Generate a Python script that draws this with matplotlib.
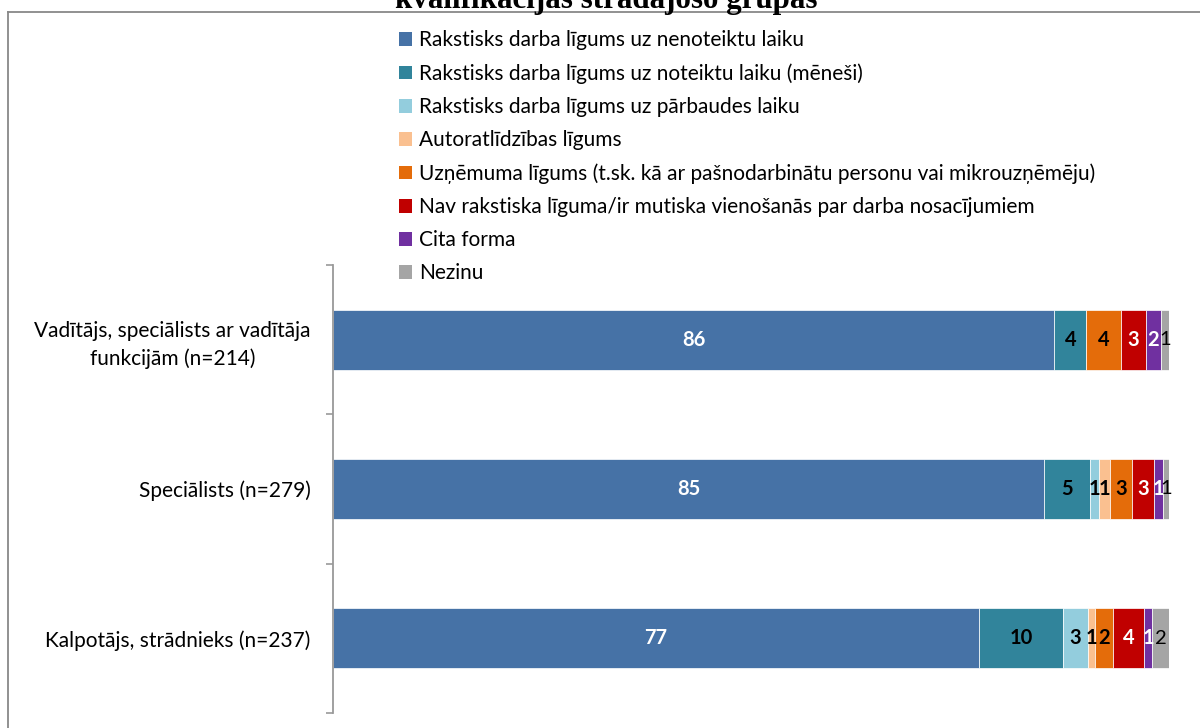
import matplotlib.pyplot as plt
from matplotlib.lines import Line2D
from matplotlib.patches import Patch
import numpy as np

# Categories (top to bottom) and series shares, %
categories = ["Vadītājs, speciālists ar vadītāja\nfunkcijām (n=214)",
              "Speciālists (n=279)",
              "Kalpotājs, strādnieks (n=237)"]

series_names = ["Rakstisks darba līgums uz nenoteiktu laiku",
                "Rakstisks darba līgums uz noteiktu laiku (mēneši)",
                "Rakstisks darba līgums uz pārbaudes laiku",
                "Autoratlīdzības līgums",
                "Uzņēmuma līgums (t.sk. kā ar pašnodarbinātu personu vai mikrouzņēmēju)",
                "Nav rakstiska līguma/ir mutiska vienošanās par darba nosacījumiem",
                "Cita forma",
                "Nezinu"]

nenoteikts = [86.3, 85.1, 77.3]
noteikts = [3.8, 5.4, 10.0]
parbaudes = [0.0, 1.1, 3.0]
autoratlidziba = [0.0, 1.4, 0.8]
uznemuma = [4.2, 2.6, 2.2]
nav_liguma = [2.9, 2.6, 3.7]
cita = [1.8, 1.1, 1.0]
nezinu = [1.0, 0.7, 2.0]

colors = ["#4672A6", "#31849B", "#93CDDD", "#FAC090",
          "#E46C0A", "#C00000", "#7030A0", "#A5A5A5"]
label_colors = ["white", "black", "black", "black",
                "black", "white", "white", "black"]
label_weights = ["bold"] * 7 + ["normal"]

FONT = "Lato"
plt.rcParams["font.family"] = [FONT, "DejaVu Sans"]

series = [nenoteikts, noteikts, parbaudes, autoratlidziba,
          uznemuma, nav_liguma, cita, nezinu]

fig = plt.figure(figsize=(12, 7.28), dpi=100)
ax = fig.add_axes([333 / 1200, 1 - 713 / 728, 836 / 1200, 448 / 728])

y = np.arange(len(categories))
left = np.zeros(len(categories))
handles = []
for vals, name, col, lc, lw in zip(series, series_names, colors,
                                   label_colors, label_weights):
    vals = np.array(vals)
    ax.barh(y, vals, left=left, height=0.4, color=col,
            edgecolor="white", linewidth=0.5)
    for yi, v, l in zip(y, vals, left):
        if v > 0:
            ax.text(l + v / 2, yi, f"{v:.0f}", ha="center", va="center",
                    color=lc, fontsize=14.5, fontweight=lw)
    left += vals
    handles.append(Patch(facecolor=col, edgecolor="none", label=name))

ax.set_xlim(0, 100)
ax.set_ylim(2.5, -0.5)
ax.set_xticks([])
ax.set_yticks([-0.5, 0.5, 1.5, 2.5])
ax.set_yticklabels([])
ax.set_yticks(y, minor=True)
ax.set_yticklabels(categories, minor=True, fontsize=15)
for lab in ax.get_yticklabels(minor=True):
    lab.set_multialignment("center")
    lab.set_linespacing(1.4)
ax.tick_params(axis="y", which="major", length=5, width=1.2,
               color="#999999", direction="out")
ax.tick_params(axis="y", which="minor", length=0, pad=16)
for s in ["top", "right", "bottom"]:
    ax.spines[s].set_visible(False)
ax.spines["left"].set_color("#999999")
ax.spines["left"].set_linewidth(1.3)

fig.legend(handles=handles, loc="upper left",
           bbox_to_anchor=(391 / 1200, 1 - 22 / 728), frameon=False,
           fontsize=15, handlelength=0.62, handleheight=0.62,
           handletextpad=0.33, labelspacing=0.63, borderaxespad=0)

# chart frame (cut off at right and bottom) and clipped title
fig.add_artist(Line2D([7.5 / 1200, 1], [1 - 11.5 / 728] * 2,
                      color="#888888", linewidth=1.3))
fig.add_artist(Line2D([7.5 / 1200] * 2, [0, 1 - 11.5 / 728],
                      color="#888888", linewidth=1.3))
fig.text(606 / 1200, 1 - 8 / 728, "kvalifikācijas strādājošo grupās",
         ha="center", va="baseline", fontsize=22.3, fontweight="bold",
         family="Liberation Serif")

fig.savefig("out.png", dpi=100)
